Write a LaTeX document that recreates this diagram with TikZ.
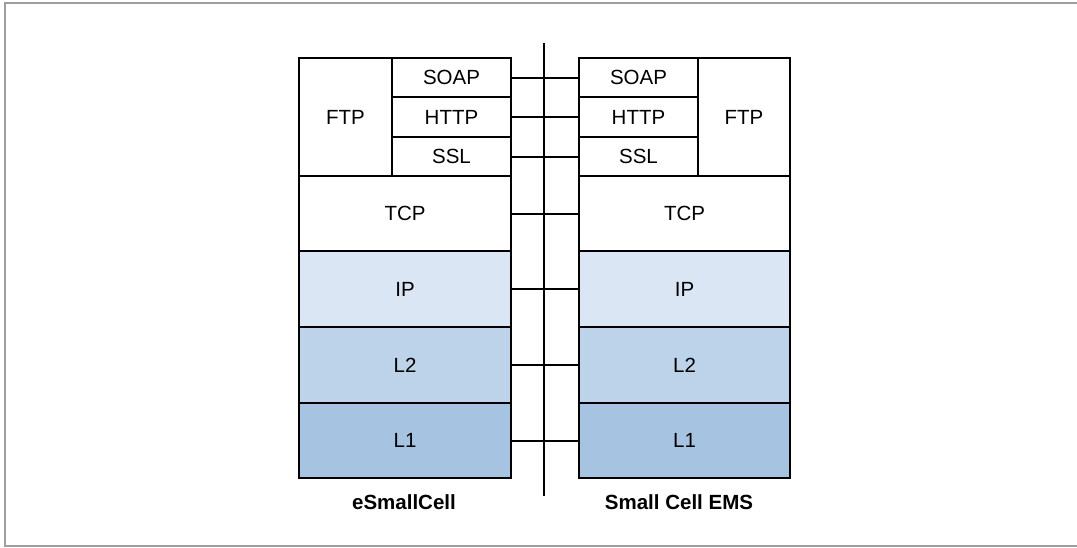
\documentclass[tikz,border=0pt]{standalone}
\usepackage{fontspec}
\setmainfont{Liberation Sans}
\definecolor{ipfill}{HTML}{DAE6F3}
\definecolor{ltwofill}{HTML}{BDD3EA}
\definecolor{lonefill}{HTML}{A6C3E1}
\definecolor{framegray}{HTML}{9E9E9E}
\begin{document}
\begin{tikzpicture}[x=1pt,y=-1pt,
  layer/.style={draw=black, line width=2pt, anchor=north west, inner sep=0pt,
    font=\fontsize{20.5}{24}\selectfont},
  link/.style={draw=black, line width=2pt},
  caption/.style={font=\fontsize{20.5}{24}\selectfont\bfseries}]
\useasboundingbox (0,0) rectangle (1077,547);
% outer frame
\draw[framegray, line width=2pt] (5,3) rectangle (1090,546);

% left stack: eSmallCell
\node[layer, minimum width=93pt, minimum height=118pt] (lftp) at (298,57) {FTP};
\node[layer, minimum width=119pt, minimum height=39pt] (lsoap) at (391,57) {SOAP};
\node[layer, minimum width=119pt, minimum height=40pt] (lhttp) at (391,96) {HTTP};
\node[layer, minimum width=119pt, minimum height=39pt] (lssl) at (391,136) {SSL};
\node[layer, minimum width=212pt, minimum height=75pt] (ltcp) at (298,175) {TCP};
\node[layer, fill=ipfill, minimum width=212pt, minimum height=76pt] (lip) at (298,250) {IP};
\node[layer, fill=ltwofill, minimum width=212pt, minimum height=76pt] (ll2) at (298,326) {L2};
\node[layer, fill=lonefill, minimum width=212pt, minimum height=75pt] (ll1) at (298,402) {L1};

% right stack: Small Cell EMS
\node[layer, minimum width=119pt, minimum height=39pt] (rsoap) at (578,57) {SOAP};
\node[layer, minimum width=119pt, minimum height=40pt] (rhttp) at (578,96) {HTTP};
\node[layer, minimum width=119pt, minimum height=39pt] (rssl) at (578,136) {SSL};
\node[layer, minimum width=92pt, minimum height=118pt] (rftp) at (697,57) {FTP};
\node[layer, minimum width=211pt, minimum height=75pt] (rtcp) at (578,175) {TCP};
\node[layer, fill=ipfill, minimum width=211pt, minimum height=76pt] (rip) at (578,250) {IP};
\node[layer, fill=ltwofill, minimum width=211pt, minimum height=76pt] (rl2) at (578,326) {L2};
\node[layer, fill=lonefill, minimum width=211pt, minimum height=75pt] (rl1) at (578,402) {L1};

% captions
\node[caption] (lcap) at (404,502) {eSmallCell};
\node[caption] (rcap) at (679,502) {Small Cell EMS};

% separating medium
\coordinate (mtop) at (544,43);
\coordinate (mbot) at (544,496);
\draw[link] (mtop) -- (mbot);

% peer links between layers
\foreach \a/\b in {lsoap/rsoap, lhttp/rhttp, lssl/rssl, ltcp/rtcp, lip/rip, ll2/rl2, ll1/rl1}
  \draw[link] (\a.east) -- (\b.west);
\end{tikzpicture}
\end{document}
